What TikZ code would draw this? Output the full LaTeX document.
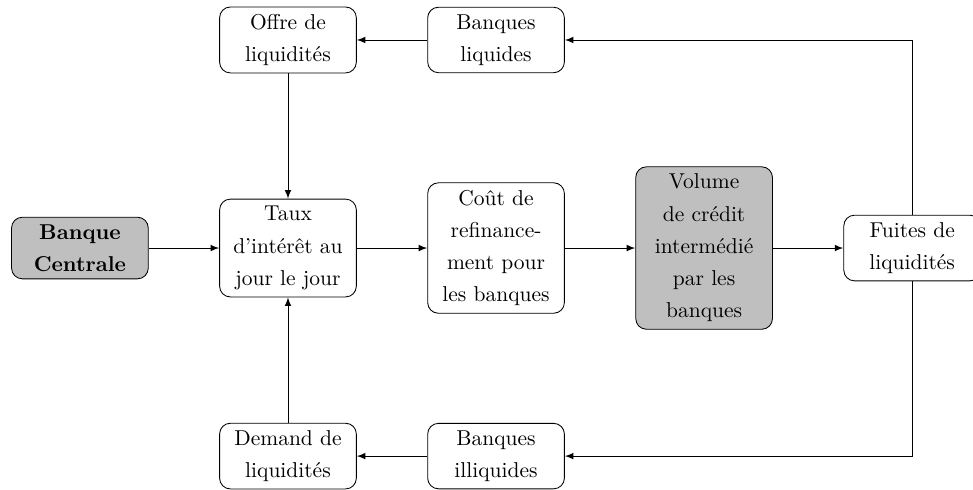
\documentclass[tikz,border=0pt]{standalone}
\usepackage{tikz}
\usetikzlibrary{arrows}

\begin{document}
\begin{tikzpicture}[>=latex,
    box/.style={draw, rounded corners=5pt, text width=2cm, align=center,
      font=\linespread{1.25}\selectfont},
    grey/.style={box, fill=lightgray}]
    \useasboundingbox (-4.706,-3.938) rectangle (11.194,4.053);
    \node[box] (12) at (0,3.4) {Offre de liquidités};
    \node[box] (13) at (3.4,3.4) {Banques liquides};
    \node[grey] (21) at (-3.4,0) {\textbf{Banque Centrale}};
    \node[box] (22) at (0,0) {Taux d'intérêt au jour le jour};
    \node[box] (23) at (3.4,0) {Coût de refinancement pour les banques};
    \node[grey] (24) at (6.8,0) {Volume\\ de crédit intermédié par les banques};
    \node[box] (25) at (10.2,0) {Fuites de liquidités};
    \node[box] (32) at (0,-3.4) {Demand de liquidités};
    \node[box] (33) at (3.4,-3.4) {Banques illiquides};
    % horizontal lines
    \draw[->] (21) -- (22);
    \draw[->] (22) -- (23);
    \draw[->] (23) -- (24);
    \draw[->] (24) -- (25);
    \draw[->] (13) -- (12);
    \draw[->] (33) -- (32);
    % vertical lines
    \draw[->] (12) -- (22);
    \draw[->] (32) -- (22);
    % leaks back to the banks
    \draw[->] (25.north) |- (13);
    \draw[->] (25.south) |- (33);
  \end{tikzpicture}
\end{document}
